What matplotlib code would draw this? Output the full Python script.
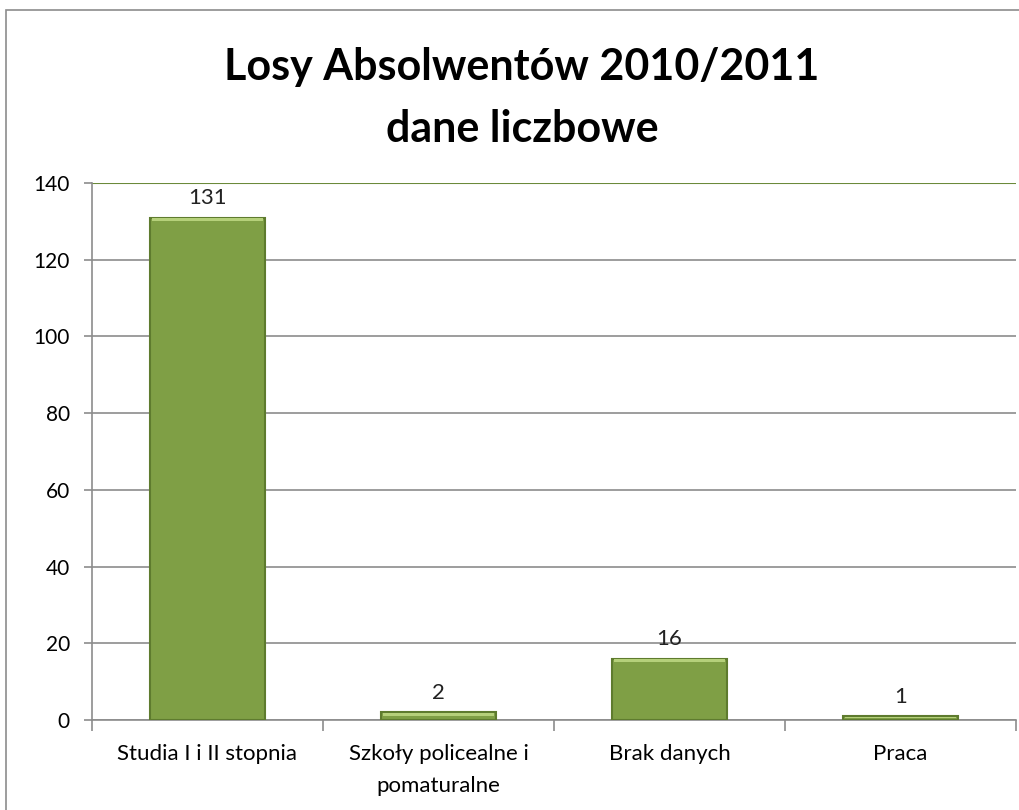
import matplotlib
matplotlib.use("Agg")
import matplotlib.pyplot as plt
from matplotlib.patches import Rectangle

categories = ["Studia I i II stopnia", "Szkoły policealne i\npomaturalne", "Brak danych", "Praca"]
values = [131, 2, 16, 1]
yticks = [0, 20, 40, 60, 80, 100, 120, 140]
title = "Losy Absolwentów 2010/2011\ndane liczbowe"

plt.rcParams['font.family'] = ['Lato', 'DejaVu Sans']

fig = plt.figure(figsize=(10.2, 8.1), dpi=100)
fig.patches.append(Rectangle((6/1020, -0.1), 1.2, 1.1 - 10/810, transform=fig.transFigure,
                             fill=False, edgecolor='#8c8c8c', linewidth=1.2))

ax = fig.add_axes([92/1020, 1 - 720/810, (1016 - 92)/1020, (720 - 183)/810])
x = list(range(len(categories)))
bars = ax.bar(x, values, width=0.5, color='#7F9F45', edgecolor='#5E7B2E', linewidth=1.5, zorder=3)
for b in bars:
    h = b.get_height()
    hh = min(0.8, h * 0.4)
    ax.bar(b.get_x() + b.get_width()/2, hh, bottom=h - hh - 0.15,
           width=b.get_width() * 0.96, color='#B5D07A', linewidth=0, zorder=4)
for xi, v in zip(x, values):
    ax.text(xi, v + 2.4, str(v), ha='center', va='bottom', fontsize=16, color='#222222')

ax.set_xlim(-0.5, len(categories) - 0.5)
ax.set_ylim(0, 140)
ax.set_yticks(yticks)
ax.set_yticklabels([str(t) for t in yticks], fontsize=15)
ax.yaxis.grid(True, color='#8c8c8c', linewidth=1.2, zorder=0)
ax.set_axisbelow(True)
ax.set_xticks(x)
ax.set_xticklabels(categories, fontsize=16, linespacing=1.75)
ax.tick_params(axis='x', length=0, pad=17)
ax.set_xticks([i + 0.5 for i in range(-1, len(categories))], minor=True)
ax.tick_params(axis='x', which='minor', length=8, color='#8c8c8c', width=1.2)
ax.tick_params(axis='y', length=6, color='#8c8c8c', width=1.2, pad=10)
for s in ['top', 'right']:
    ax.spines[s].set_visible(False)
ax.spines['left'].set_color('#8c8c8c')
ax.spines['bottom'].set_color('#8c8c8c')
ax.spines['left'].set_linewidth(1.2)
ax.spines['bottom'].set_linewidth(1.2)
ax.axhline(140, color='#6b8a3a', linewidth=1.5, zorder=2)

fig.text(522/1020, 1 - 98/810, title, ha='center', va='center', fontsize=31,
         fontweight='bold', linespacing=1.65)

fig.savefig("out.png", dpi=100)
